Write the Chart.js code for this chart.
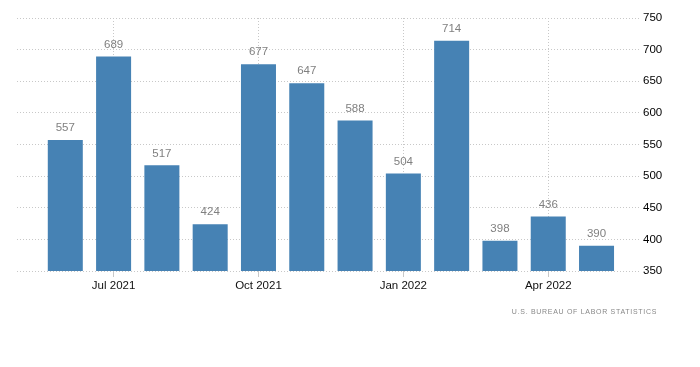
<!DOCTYPE html>
<html>
<head>
<meta charset="utf-8">
<script src="https://cdn.jsdelivr.net/npm/chart.js@4/dist/chart.umd.min.js"></script>
<style>
  html, body { margin: 0; padding: 0; background: #fff; }
  #wrap { width: 700px; height: 367px; }
</style>
</head>
<body>
<div id="wrap"><canvas id="bar-chart" width="700" height="367"></canvas></div>
<script>
var months = ['Jun 2021', 'Jul 2021', 'Aug 2021', 'Sep 2021', 'Oct 2021', 'Nov 2021', 'Dec 2021', 'Jan 2022', 'Feb 2022', 'Mar 2022', 'Apr 2022', 'May 2022'];
var values = [557, 689, 517, 424, 677, 647, 588, 504, 714, 398, 436, 390];
var tickIndexes = [1, 4, 7, 10];
var yTicks = [350, 400, 450, 500, 550, 600, 650, 700, 750];
var source = 'U.S. BUREAU OF LABOR STATISTICS';

var fontFamily = '"Liberation Sans", Arial, sans-serif';
var barColor = '#4682B4';
var gridColor = '#c8c8c8';

// valori sopra le barre
var valueLabels = {
    id: 'valueLabels',
    afterDatasetsDraw: function(chart) {
        var ctx = chart.ctx;
        var meta = chart.getDatasetMeta(0);
        ctx.save();
        ctx.font = '11.5px ' + fontFamily;
        ctx.fillStyle = '#808080';
        ctx.textAlign = 'center';
        ctx.textBaseline = 'middle';
        meta.data.forEach(function(bar, i) {
            ctx.fillText(values[i], bar.x, bar.y - 12);
        });
        ctx.restore();
    }
};

// fonte in basso a destra
var sourceLabel = {
    id: 'sourceLabel',
    afterDraw: function(chart) {
        var ctx = chart.ctx;
        ctx.save();
        ctx.font = '7px ' + fontFamily;
        ctx.letterSpacing = '0.7px';
        ctx.fillStyle = '#888';
        ctx.textAlign = 'right';
        ctx.textBaseline = 'middle';
        ctx.fillText(source, 657, 312);
        ctx.restore();
    }
};

var points = [];
for (var i = 0; i < values.length; i++) {
    points.push({ x: i, y: values[i] });
}

var ctx = document.getElementById('bar-chart');
var barChart = new Chart(ctx, {
    type: 'bar',
    data: {
        datasets: [{
            data: points,
            backgroundColor: barColor,
            borderWidth: 0,
            categoryPercentage: 1,
            barPercentage: 0.725
        }]
    },
    options: {
        responsive: false,
        animation: false,
        events: [],
        layout: {
            padding: { left: 17, right: 0, top: 18, bottom: 66 }
        },
        plugins: {
            legend: { display: false },
            tooltip: { enabled: false }
        },
        scales: {
            x: {
                type: 'linear',
                min: -1,
                max: 11.9,
                offset: false,
                afterBuildTicks: function(scale) {
                    scale.ticks = tickIndexes.map(function(v) { return { value: v }; });
                },
                afterFit: function(scale) { scale.height = 30; },
                ticks: {
                    autoSkip: false,
                    maxRotation: 0,
                    padding: 2,
                    color: '#111',
                    font: { family: fontFamily, size: 11.5 },
                    callback: function(value) { return months[value]; }
                },
                grid: {
                    offset: false,
                    color: gridColor,
                    tickLength: 6
                },
                border: { display: false, dash: [1, 2] }
            },
            y: {
                position: 'right',
                min: 350,
                max: 750,
                afterBuildTicks: function(scale) {
                    scale.ticks = yTicks.map(function(v) { return { value: v }; });
                },
                afterFit: function(scale) { scale.width = 60; },
                ticks: {
                    padding: 3,
                    color: '#000',
                    font: { family: fontFamily, size: 11.5 }
                },
                grid: {
                    color: gridColor,
                    drawTicks: false
                },
                border: { display: false, dash: [1, 2] }
            }
        }
    },
    plugins: [valueLabels, sourceLabel]
});
</script>
</body>
</html>
